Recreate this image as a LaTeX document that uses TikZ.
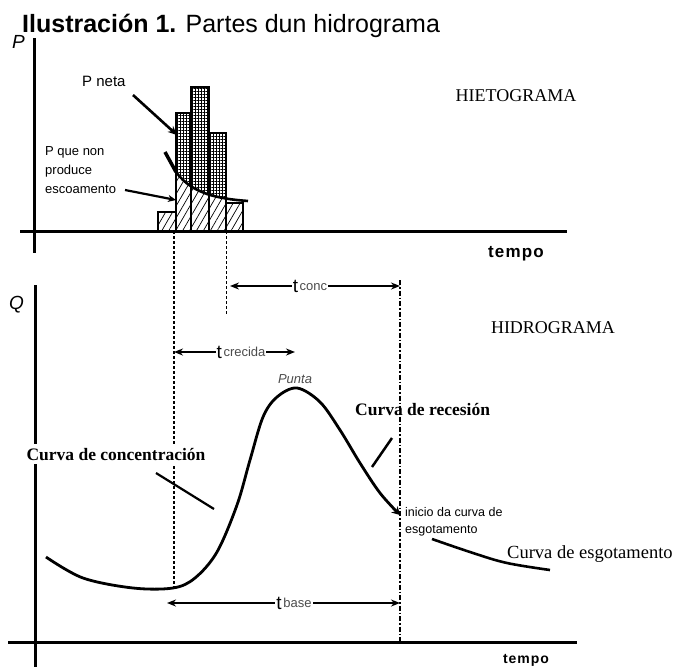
\documentclass[tikz,border=0pt]{standalone}
\usepackage{fontspec}
\setmainfont{Liberation Serif}
\newfontfamily\arial{Liberation Sans}
\newfontfamily\arialsp[LetterSpace=7]{Liberation Sans}
\usetikzlibrary{patterns,patterns.meta,arrows.meta}
\newcommand{\fsz}[1]{\fontsize{#1}{#1}\selectfont}
\definecolor{lblgray}{gray}{0.3}
\begin{document}
\begin{tikzpicture}[x=1pt,y=-1pt,
  axis/.style={line width=3pt},
  bar/.style={draw,line width=2.3pt},
  lowhatch/.style={pattern={Lines[angle=60,distance=6pt,line width=0.7pt]}},
  highhatch/.style={pattern={Hatch[distance=3pt,line width=0.85pt]}},
  ptr/.style={line width=2.2pt},
  ptrarrow/.style={line width=2.6pt,-{Stealth[length=9pt,width=8pt]}},
  tarrow/.style={line width=1.8pt,{Stealth[length=9pt,width=7pt]}-{Stealth[length=9pt,width=7pt]}},
  tlabel/.style={fill=white,inner sep=1pt},
  curvelbl/.style={font=\bfseries\fsz{17.5},inner sep=0pt},
  small/.style={font=\arial\fsz{12.5},inner sep=0pt,anchor=base west},
  vdash/.style={line width=1.5pt,dash pattern=on 3pt off 2pt},
]
\useasboundingbox (0,0) rectangle (685,667);

% title
\node[anchor=base west,inner sep=0pt] (title) at (22,32) {\arial\fsz{25}\textbf{Ilustración 1.} Partes dun hidrograma};

% ---------- hietograma ----------
\node[anchor=base west,inner sep=0pt] (P) at (12,48) {\arial\itshape\fsz{19}P};
% bars
\fill[lowhatch] (158,212) rectangle (176,231);
\fill[lowhatch] (176,113) rectangle (191,231);
\fill[lowhatch] (191,87) rectangle (209,231);
\fill[lowhatch] (209,133) rectangle (226,231);
\fill[lowhatch] (226,203) rectangle (243,231);
\begin{scope}
  \clip (176,172) .. controls (185,184) and (195,190) .. (210,195)
        .. controls (225,199) and (235,200) .. (248,201) -- (248,60) -- (170,60) -- (170,172) -- cycle;
  \fill[white] (176,87) rectangle (226,231);
  \fill[highhatch] (176,113) rectangle (191,231);
  \fill[highhatch] (191,87) rectangle (209,231);
  \fill[highhatch] (209,133) rectangle (226,231);
\end{scope}
\draw[bar] (158,212) rectangle (176,231);
\draw[bar] (176,113) rectangle (191,231);
\draw[bar] (191,87) rectangle (209,231);
\draw[bar] (209,133) rectangle (226,231);
\draw[bar] (226,203) rectangle (243,231);
% infiltration curve
\draw[line width=3.5pt] (165,152) -- (176,172);
\draw[line width=2.6pt] (176,172) .. controls (185,184) and (195,190) .. (210,195)
        .. controls (225,199) and (235,200) .. (248,201);

% axes top
\draw[axis] (34,38) -- (34,253);
\draw[axis] (20,231) -- (567,231);
\node[anchor=base,inner sep=0pt] (tempo1) at (516,257) {\arialsp\bfseries\fsz{17}tempo};
\node[anchor=base,inner sep=0pt] (hieto) at (516,101) {\fsz{18}HIETOGRAMA};

% labels with pointers
\node[anchor=base west,inner sep=0pt] (pneta) at (82,86) {\arial\fsz{15}P neta};
\coordinate (pnetaS) at (133,95);
\coordinate (pnetaE) at (177,135);
\draw[ptrarrow] (pnetaS) -- (pnetaE);
\node[anchor=base west,inner sep=0pt] (pq1) at (45,155) {\arial\fsz{13}P que non};
\node[anchor=base west,inner sep=0pt] (pq2) at (45,174) {\arial\fsz{13}produce};
\node[anchor=base west,inner sep=0pt] (pq3) at (45,193) {\arial\fsz{13}escoamento};
\coordinate (pqS) at (125,190);
\coordinate (pqE) at (176,200);
\draw[line width=2.2pt,-{Stealth[length=8pt,width=7pt]}] (pqS) -- (pqE);

% ---------- hidrograma ----------
\node[anchor=base west,inner sep=0pt] (Q) at (9,309) {\arial\itshape\fsz{19}Q};
\draw[axis] (35,285) -- (35,667);
\draw[axis] (8,642) -- (577,642);
\node[anchor=base,inner sep=0pt] (tempo2) at (526,663) {\arialsp\bfseries\fsz{14}tempo};
\node[anchor=base,inner sep=0pt] (hidro) at (553,333) {\fsz{18}HIDROGRAMA};

% vertical guide lines
\draw[vdash] (174,231) -- (174,588);
\draw[line width=1pt,dash pattern=on 3pt off 2pt] (226,231) -- (226,314);
\draw[line width=1.6pt,dash pattern=on 5pt off 2pt on 1.5pt off 2pt] (400,280) -- (400,642);

% time arrows
\coordinate (tcL) at (230,286); \coordinate (tcR) at (400,286);
\draw[tarrow] (tcL) -- (tcR);
\node[tlabel] (tconc) at (310,286) {\arial{\fsz{19}t}\,\raisebox{2pt}{\color{lblgray}\fsz{13}conc}};
\coordinate (trL) at (174,352); \coordinate (trR) at (295,352);
\draw[tarrow] (trL) -- (trR);
\node[tlabel] (tcrec) at (241,352) {\arial{\fsz{19}t}\,\raisebox{2pt}{\color{lblgray}\fsz{13}crecida}};
\coordinate (tbL) at (167,603); \coordinate (tbR) at (400,603);
\draw[tarrow] (tbL) -- (tbR);
\node[tlabel] (tbase) at (294,603) {\arial{\fsz{19}t}\,\raisebox{2pt}{\color{lblgray}\fsz{13}base}};

% hydrograph curve
\draw[line width=2.8pt,-{Stealth[length=8pt,width=9pt]}] plot[smooth,tension=0.55] coordinates
  {(46,557) (83,578) (133,588) (173,588) (195,578) (217,552) (237,505) (250,460) (263,417) (277,397) (297,388) (320,402) (340,430) (360,463) (380,493) (400,515)};
\draw[line width=2.6pt] plot[smooth,tension=0.6] coordinates {(432,539) (473,553) (507,563) (550,570)};

\node[anchor=base,inner sep=0pt,text=lblgray] (punta) at (295,383) {\arial\itshape\fsz{13}Punta};

% curve labels
\node[curvelbl,anchor=base,fill=white,inner ysep=4pt,inner xsep=0pt] (conc) at (116,460) {Curva de concentración};
\coordinate (concS) at (156,473); \coordinate (concE) at (214,509);
\draw[ptr] (concS) -- (concE);
\node[curvelbl,anchor=base west] (rec) at (355,415) {Curva de recesión};
\coordinate (recS) at (392,438); \coordinate (recE) at (372,467);
\draw[line width=2.5pt] (recS) -- (recE);
\node[anchor=base west,inner sep=0pt] (esg) at (507,558) {\fsz{18.5}Curva de esgotamento};
\node[small] (ini1) at (405,516) {inicio da curva de};
\node[small] (ini2) at (405,533) {esgotamento};
\end{tikzpicture}
\end{document}
